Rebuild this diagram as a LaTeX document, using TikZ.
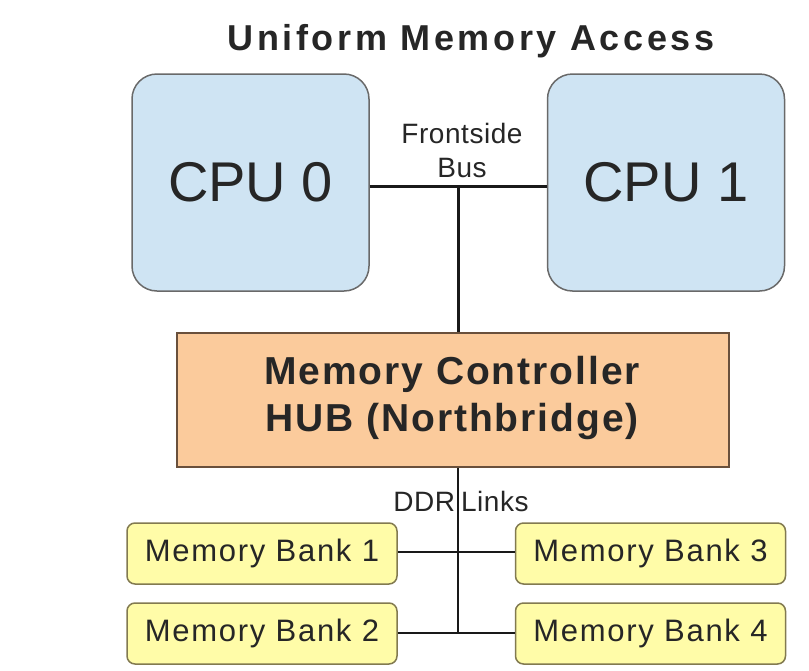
\documentclass[tikz,border=0pt]{standalone}
\usepackage{fontspec}
\setmainfont{Liberation Sans}
\newfontfamily\titlefont[LetterSpace=10]{Liberation Sans}
\newfontfamily\mcfont[LetterSpace=5]{Liberation Sans}
\newfontfamily\bankfont[LetterSpace=5.5]{Liberation Sans}
\newfontfamily\smallfont[LetterSpace=2]{Liberation Sans}
\definecolor{cpufill}{RGB}{207,228,243}
\definecolor{cpuline}{RGB}{105,105,105}
\definecolor{mcfill}{RGB}{251,203,156}
\definecolor{mcline}{RGB}{105,80,60}
\definecolor{bankfill}{RGB}{255,252,168}
\definecolor{bankline}{RGB}{130,122,80}
\tikzset{
  cpubox/.style={draw=cpuline, fill=cpufill, line width=1.5pt, rounded corners=25pt,
    minimum width=237pt, minimum height=217pt, inner sep=0pt,
    font=\fontsize{56}{60}\selectfont, text=black!85},
  mcbox/.style={draw=mcline, fill=mcfill, line width=1.5pt,
    minimum width=552pt, minimum height=134pt, inner sep=0pt},
  bankbox/.style={draw=bankline, fill=bankfill, line width=1.5pt, rounded corners=8pt,
    minimum width=270pt, minimum height=61pt, inner sep=0pt,
    font=\bankfont\fontsize{31}{34}\selectfont, text=black!85},
  lbl/.style={inner sep=0pt, font=\smallfont\fontsize{28}{34}\selectfont, align=center, text=black!85},
  bus/.style={line width=3pt, black!90},
  ddr/.style={line width=2pt, black!90}
}
\begin{document}
\begin{tikzpicture}[x=1pt,y=-1pt]
\useasboundingbox (0,0) rectangle (809,670);
\node[inner sep=0pt, font=\titlefont\bfseries\fontsize{36}{40}\selectfont, text=black!85] (title) at (471,41) {Uniform Memory Access};
\node[cpubox] (cpu0) at (250.5,182.5) {CPU 0};
\node[cpubox] (cpu1) at (666,182.5) {CPU 1};
\node[mcbox] (mc) at (453,400) {};
\node[inner sep=0pt, align=center, font=\mcfont\bfseries\fontsize{39}{47}\selectfont, text=black!85] (mctext) at (452,398) {Memory Controller\\HUB (Northbridge)};
\node[bankbox] (b1) at (262,553.5) {Memory Bank 1};
\node[bankbox] (b2) at (262,633.5) {Memory Bank 2};
\node[bankbox] (b3) at (650.5,553.5) {Memory Bank 3};
\node[bankbox] (b4) at (650.5,633.5) {Memory Bank 4};
\node[lbl] (fsb) at (462,150) {Frontside\\Bus};
\coordinate (j1) at (458,186);
\coordinate (j2) at (458,552);
\coordinate (j3) at (458,633);
\draw[bus] (cpu0.east |- j1) -- (cpu1.west |- j1);
\draw[bus] (j1) -- (j1 |- mc.north);
\draw[ddr] (j1 |- mc.south) -- (j3);
\draw[ddr] (b1.east |- j2) -- (b3.west |- j2);
\draw[ddr] (b2.east |- j3) -- (b4.west |- j3);
\node[lbl, anchor=base] (ddrl) at (461,511) {DDR\hspace{6pt}Links};
\end{tikzpicture}
\end{document}
